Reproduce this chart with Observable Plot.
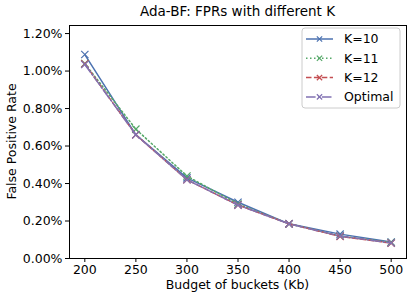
<!DOCTYPE html>
<html><head><meta charset="utf-8">
<script src="https://cdn.jsdelivr.net/npm/d3@7"></script>
<script src="https://cdn.jsdelivr.net/npm/@observablehq/plot@0.6"></script>
<style>
body{margin:0;background:#fff;}
#wrap{position:relative;width:415px;height:298px;font-family:"DejaVu Sans",sans-serif;}
#title{position:absolute;left:69px;width:337px;top:3px;text-align:center;font-size:13.5px;color:#000;}
</style></head>
<body><div id="wrap"><div id="title">Ada-BF: FPRs with different K</div></div>
<script>
const budgets = [200, 250, 300, 350, 400, 450, 500];
const fprK10 = [0.01088, 0.0066, 0.0043, 0.0030, 0.00185, 0.0013, 0.00088];
const fprK11 = [0.01040, 0.0069, 0.0044, 0.0029, 0.00185, 0.0012, 0.00085];
const fprK12 = [0.01038, 0.0066, 0.0042, 0.00285, 0.00185, 0.00118, 0.00082];
const fprOpt = [0.01035, 0.0066, 0.0042, 0.00285, 0.00185, 0.0012, 0.00083];
const seriesNames = ["K=10", "K=11", "K=12", "Optimal"];
const xTicks = [200, 250, 300, 350, 400, 450, 500];
const yTicks = [0, 0.002, 0.004, 0.006, 0.008, 0.010, 0.012];

const colors = ["#4c72b0", "#55a868", "#c44e52", "#8172b2"];
const dashes = [null, "1.5,2.5", "5.5,2.4", "9.6,2.4,1.5,2.4"];
const allVals = [fprK10, fprK11, fprK12, fprOpt];

const marks = [];
allVals.forEach((vals, i) => {
  const data = budgets.map((b, j) => ({x: b, y: vals[j]}));
  marks.push(Plot.line(data, {x: "x", y: "y", stroke: colors[i], strokeWidth: 1.5, strokeDasharray: dashes[i] || undefined}));
  marks.push(Plot.dot(data, {x: "x", y: "y", symbol: "times", r: 3.4, stroke: colors[i], strokeWidth: 1.2}));
});
marks.push(Plot.frame({stroke: "#000", strokeWidth: 1}));
marks.push(Plot.axisX({ticks: xTicks, tickSize: 4, tickPadding: 3, fontSize: 12.5, label: null}));
marks.push(Plot.axisY({ticks: yTicks, tickFormat: d3.format(".2%"), tickSize: 4, tickPadding: 3, fontSize: 12.5, label: null}));

const chart = Plot.plot({
  width: 415, height: 298,
  marginTop: 25, marginBottom: 40, marginLeft: 69, marginRight: 9,
  style: {fontFamily: "DejaVu Sans, sans-serif", fontSize: "12px", color: "#000", background: "#fff"},
  x: {domain: [185, 515]},
  y: {domain: [0, 0.01243]},
  marks
});
document.getElementById("wrap").appendChild(chart);

const svg = d3.select(chart);
// axis labels
svg.append("text").attr("x", 237.5).attr("y", 289).attr("text-anchor", "middle")
  .attr("font-size", 12.5).attr("fill", "#000").text("Budget of buckets (Kb)");
svg.append("text").attr("transform", "translate(16,141.5) rotate(-90)").attr("text-anchor", "middle")
  .attr("font-size", 12.5).attr("fill", "#000").text("False Positive Rate");

// legend
const lg = svg.append("g").attr("transform", "translate(302,28)");
lg.append("rect").attr("width", 98).attr("height", 80).attr("rx", 3)
  .attr("fill", "#fff").attr("fill-opacity", 0.8).attr("stroke", "#ccc").attr("stroke-width", 1);
seriesNames.forEach((name, i) => {
  const yy = 11 + i * 19.3;
  lg.append("line").attr("x1", 4).attr("x2", 31).attr("y1", yy).attr("y2", yy)
    .attr("stroke", colors[i]).attr("stroke-width", 1.5).attr("stroke-dasharray", dashes[i]);
  lg.append("path").attr("d", d3.symbol(d3.symbolTimes, 20)()).attr("transform", `translate(17.5,${yy})`)
    .attr("stroke", colors[i]).attr("stroke-width", 1.2).attr("fill", "none");
  lg.append("text").attr("x", 42).attr("y", yy).attr("dy", "0.35em").attr("font-size", 12.5)
    .attr("text-anchor", "start").attr("fill", "#000").text(name);
});
</script>
</body></html>
